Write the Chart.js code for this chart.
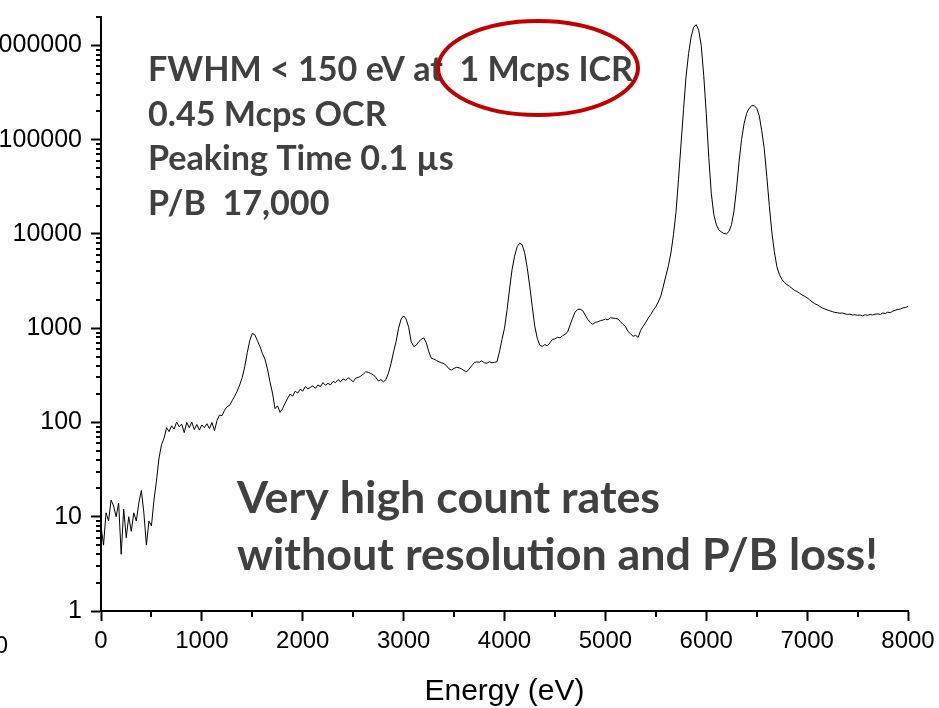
<!DOCTYPE html>
<html lang="en">
<head>
  <meta charset="UTF-8">
  <title>High count rate spectrum</title>
  <style>
    html, body { margin: 0; padding: 0; background: #fff; }
    .chart-container { position: relative; width: 939px; height: 708px; }
  </style>
</head>
<body>
  <div class="chart-container">
    <canvas id="spectrumChart" width="939" height="708"></canvas>
  </div>

  <script src="https://cdn.jsdelivr.net/npm/chart.js"></script>
  <script>
    // Energy channels (eV), 25 eV wide
    const energy = [
      0, 25, 50, 75, 100, 125, 150, 175, 200, 225, 250, 275, 300, 325, 350, 375, 400, 425, 450, 475,
      500, 525, 550, 575, 600, 625, 650, 675, 700, 725, 750, 775, 800, 825, 850, 875, 900, 925, 950, 975,
      1000, 1025, 1050, 1075, 1100, 1125, 1150, 1175, 1200, 1225, 1250, 1275, 1300, 1325, 1350, 1375, 1400, 1425, 1450, 1475,
      1500, 1525, 1550, 1575, 1600, 1625, 1650, 1675, 1700, 1725, 1750, 1775, 1800, 1825, 1850, 1875, 1900, 1925, 1950, 1975,
      2000, 2025, 2050, 2075, 2100, 2125, 2150, 2175, 2200, 2225, 2250, 2275, 2300, 2325, 2350, 2375, 2400, 2425, 2450, 2475,
      2500, 2525, 2550, 2575, 2600, 2625, 2650, 2675, 2700, 2725, 2750, 2775, 2800, 2825, 2850, 2875, 2900, 2925, 2950, 2975,
      3000, 3025, 3050, 3075, 3100, 3125, 3150, 3175, 3200, 3225, 3250, 3275, 3300, 3325, 3350, 3375, 3400, 3425, 3450, 3475,
      3500, 3525, 3550, 3575, 3600, 3625, 3650, 3675, 3700, 3725, 3750, 3775, 3800, 3825, 3850, 3875, 3900, 3925, 3950, 3975,
      4000, 4025, 4050, 4075, 4100, 4125, 4150, 4175, 4200, 4225, 4250, 4275, 4300, 4325, 4350, 4375, 4400, 4425, 4450, 4475,
      4500, 4525, 4550, 4575, 4600, 4625, 4650, 4675, 4700, 4725, 4750, 4775, 4800, 4825, 4850, 4875, 4900, 4925, 4950, 4975,
      5000, 5025, 5050, 5075, 5100, 5125, 5150, 5175, 5200, 5225, 5250, 5275, 5300, 5325, 5350, 5375, 5400, 5425, 5450, 5475,
      5500, 5525, 5550, 5575, 5600, 5625, 5650, 5675, 5700, 5725, 5750, 5775, 5800, 5825, 5850, 5875, 5900, 5925, 5950, 5975,
      6000, 6025, 6050, 6075, 6100, 6125, 6150, 6175, 6200, 6225, 6250, 6275, 6300, 6325, 6350, 6375, 6400, 6425, 6450, 6475,
      6500, 6525, 6550, 6575, 6600, 6625, 6650, 6675, 6700, 6725, 6750, 6775, 6800, 6825, 6850, 6875, 6900, 6925, 6950, 6975,
      7000, 7025, 7050, 7075, 7100, 7125, 7150, 7175, 7200, 7225, 7250, 7275, 7300, 7325, 7350, 7375, 7400, 7425, 7450, 7475,
      7500, 7525, 7550, 7575, 7600, 7625, 7650, 7675, 7700, 7725, 7750, 7775, 7800, 7825, 7850, 7875, 7900, 7925, 7950, 7975,
      8000
    ];

    // Counts (log scale)
    const counts = [
      8, 5, 11, 9, 15, 13, 10, 14, 4, 12, 6, 10, 7, 11, 9, 14, 19, 11, 5, 9,
      8, 15, 24, 42, 58, 68, 88, 80, 92, 85, 101, 90, 96, 78, 100, 88, 101, 84, 95, 83,
      94, 88, 97, 86, 100, 82, 105, 120, 118, 135, 147, 152, 170, 190, 215, 250, 300, 390, 550, 740,
      880, 850, 740, 640, 540, 470, 370, 270, 205, 140, 150, 128, 140, 160, 180, 200, 190, 215, 205, 225,
      215, 240, 228, 235, 245, 230, 250, 240, 265, 248, 260, 250, 272, 265, 285, 270, 290, 280, 298, 285,
      270, 295, 300, 310, 325, 345, 340, 330, 320, 300, 275, 285, 270, 285, 335, 420, 560, 720, 1000, 1250,
      1350, 1250, 1020, 720, 640, 660, 720, 760, 790, 700, 560, 480, 470, 455, 440, 430, 420, 400, 370, 360,
      375, 385, 380, 370, 355, 345, 370, 400, 430, 440, 435, 450, 430, 425, 440, 430, 435, 440, 560, 760,
      1000, 1550, 2600, 4200, 5800, 7300, 7950, 7700, 6300, 4400, 2800, 1700, 1050, 780, 660, 640, 670, 650, 700, 760,
      770, 800, 790, 830, 860, 910, 1080, 1280, 1480, 1580, 1590, 1540, 1380, 1240, 1150, 1100, 1150, 1170, 1200, 1220,
      1250, 1230, 1290, 1280, 1270, 1250, 1170, 1100, 1040, 920, 870, 820, 840, 800, 950, 1050, 1150, 1280, 1400, 1550,
      1700, 1900, 2200, 2800, 3600, 4600, 6300, 9800, 17000, 38000, 90000, 210000, 470000, 820000, 1230000, 1560000, 1660000, 1450000, 1000000, 480000,
      190000, 65000, 27000, 16000, 12500, 11000, 10500, 10100, 10000, 10600, 12500, 17500, 30000, 58000, 100000, 148000, 190000, 215000, 228000, 230000,
      215000, 180000, 125000, 80000, 41000, 20000, 10500, 6500, 4500, 3700, 3300, 3050, 2900, 2780, 2650, 2520, 2450, 2350, 2250, 2180,
      2100, 2000, 1900, 1820, 1770, 1700, 1640, 1600, 1560, 1530, 1500, 1470, 1460, 1440, 1450, 1420, 1400, 1410, 1380, 1390,
      1370, 1380, 1350, 1390, 1370, 1400, 1380, 1410, 1420, 1400, 1450, 1430, 1480, 1460, 1520, 1550, 1580, 1600, 1640, 1660,
      1700
    ];

    const xTicks = [0, 1000, 2000, 3000, 4000, 5000, 6000, 7000, 8000];
    const xMinorTicks = [500, 1500, 2500, 3500, 4500, 5500, 6500, 7500];
    const yTicks = [1, 10, 100, 1000, 10000, 100000, 1000000];
    const yMinorFactors = [2, 3, 4, 5, 6, 7, 8, 9];

    const infoLines = ['FWHM < 150 eV at  1 Mcps ICR', '0.45 Mcps OCR', 'Peaking Time 0.1 \u00b5s', 'P/B  17,000'];
    const claimLines = ['Very high count rates', 'without resolution and P/B loss!'];

    // font size that makes text span a given width
    function fitSize(ctx, text, width, family) {
      ctx.font = 'bold 100px ' + family;
      return 100 * width / ctx.measureText(text).width;
    }

    // short minor ticks on both axes
    const minorTicks = {
      id: 'minorTicks',
      afterDraw(chart) {
        const { ctx, scales: { x, y } } = chart;
        ctx.save();
        ctx.strokeStyle = '#000';
        ctx.lineWidth = 2;
        ctx.beginPath();
        xMinorTicks.forEach(v => {
          const px = Math.round(x.getPixelForValue(v));
          ctx.moveTo(px, y.bottom);
          ctx.lineTo(px, y.bottom + 6);
        });
        yTicks.forEach(d => {
          yMinorFactors.forEach(m => {
            const val = d * m;
            if (val > y.max) return;
            const py = Math.round(y.getPixelForValue(val));
            ctx.moveTo(x.left - 5, py);
            ctx.lineTo(x.left, py);
          });
        });
        ctx.stroke();
        ctx.restore();
      }
    };

    // text boxes and red ellipse from the slide
    const annotations = {
      id: 'annotations',
      afterDraw(chart) {
        const ctx = chart.ctx;
        ctx.save();
        ctx.fillStyle = '#404040';
        ctx.textAlign = 'left';
        ctx.textBaseline = 'alphabetic';

        const infoSize = fitSize(ctx, infoLines[0], 485, 'Lato');
        ctx.font = 'bold ' + infoSize + 'px Lato';
        infoLines.forEach((t, i) => ctx.fillText(t, 148, 81 + i * 44.5));

        const claimSize = fitSize(ctx, claimLines[1], 641, 'Lato');
        ctx.font = 'bold ' + claimSize + 'px Lato';
        claimLines.forEach((t, i) => ctx.fillText(t, 237, 513 + i * 57));

        ctx.strokeStyle = '#C00000';
        ctx.lineWidth = 4;
        ctx.beginPath();
        ctx.ellipse(538, 68, 100, 47, 0, 0, 2 * Math.PI);
        ctx.stroke();

        // clipped label at the far left edge
        ctx.fillStyle = '#000';
        ctx.font = '24px "Liberation Sans"';
        ctx.textAlign = 'right';
        ctx.fillText('0', 8, 653);
        ctx.restore();
      }
    };

    const ctx = document.getElementById('spectrumChart').getContext('2d');
    const axisFont = { family: '"Liberation Sans", Arial, sans-serif', size: 24 };

    new Chart(ctx, {
      type: 'line',
      data: {
        datasets: [{
          data: energy.map((e, i) => ({ x: e, y: counts[i] })),
          borderColor: '#000',
          borderWidth: 1,
          pointRadius: 0,
          tension: 0,
          fill: false
        }]
      },
      options: {
        responsive: false,
        animation: false,
        devicePixelRatio: 1,
        layout: { padding: { top: 17, right: 31, left: 0, bottom: 0 } },
        plugins: { legend: { display: false }, tooltip: { enabled: false } },
        scales: {
          x: {
            type: 'linear',
            min: 0,
            max: 8000,
            afterFit(scale) {
              scale.height = 97;
              scale.paddingLeft = 0;
              scale.paddingRight = 0;
            },
            afterBuildTicks(scale) { scale.ticks = xTicks.map(v => ({ value: v })); },
            ticks: { font: axisFont, color: '#000', padding: 6, maxRotation: 0, autoSkip: false, callback: v => String(v) },
            grid: { display: true, drawOnChartArea: false, drawTicks: true, tickLength: 10, tickWidth: 2, tickColor: '#000' },
            border: { display: true, color: '#000', width: 2 },
            title: {
              display: true,
              text: 'Energy (eV)',
              color: '#000',
              font: { family: '"Liberation Sans", Arial, sans-serif', size: 30, lineHeight: 1.1 },
              padding: { top: 0, bottom: 0 }
            }
          },
          y: {
            type: 'logarithmic',
            min: 1,
            max: 2000000,
            afterFit(scale) {
              scale.width = 101;
              scale.paddingTop = 0;
              scale.paddingBottom = 0;
            },
            afterBuildTicks(scale) { scale.ticks = yTicks.map(v => ({ value: v, major: true })); },
            ticks: {
              font: { family: '"Liberation Sans", Arial, sans-serif', size: 25 },
              color: '#000', padding: 9, autoSkip: false, callback: v => String(v)
            },
            grid: { display: true, drawOnChartArea: false, drawTicks: true, tickLength: 10, tickWidth: 2, tickColor: '#000' },
            border: { display: true, color: '#000', width: 2 }
          }
        }
      },
      plugins: [minorTicks, annotations]
    });
  </script>
</body>
</html>
